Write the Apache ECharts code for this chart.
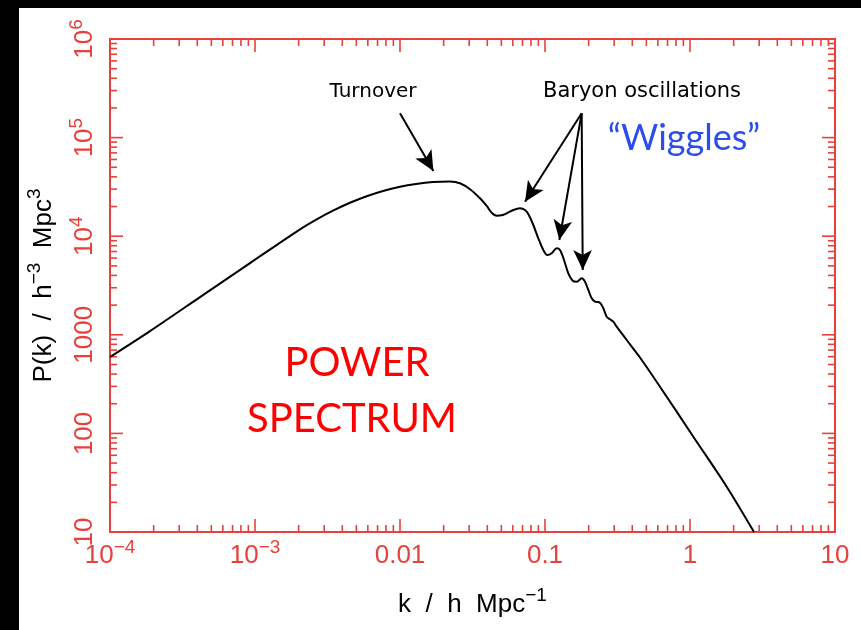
<!DOCTYPE html>
<html><head><meta charset="utf-8">
<script src="https://cdn.jsdelivr.net/npm/echarts@6/dist/echarts.min.js"></script>
<style>html,body{margin:0;padding:0;background:#fff;}#c{width:861px;height:630px;}</style>
</head><body><div id="c"></div>
<script>
// ---- data ----
const kValues = [1e-4, 1.888e-4, 4.175e-4, 9.237e-4, 2.043e-3, 2.664e-3, 3.451e-3, 4.520e-3, 5.893e-3, 7.632e-3, 0.0100, 0.01289, 0.01689, 0.02213, 0.02593, 0.03040, 0.03561, 0.03963, 0.04289, 0.04645, 0.05029, 0.05444, 0.06045, 0.06725, 0.07278, 0.07670, 0.08306, 0.08989, 0.09734, 0.1037, 0.1112, 0.1204, 0.1269, 0.1352, 0.1448, 0.1552, 0.1654, 0.1791, 0.1888, 0.1989, 0.2099, 0.2213, 0.2394, 0.2524, 0.2664, 0.2807, 0.2958, 0.3122, 0.3380, 0.3660, 0.4518, 0.6209, 1.054, 1.791, 2.763];
const pValues = [595, 1090, 2412, 5337, 11750, 14840, 18180, 21840, 25420, 28730, 31700, 33830, 35380, 35880, 34400, 29910, 24230, 20250, 17310, 16140, 16290, 17070, 18440, 19190, 18440, 16800, 12990, 9522, 7244, 6447, 6709, 7540, 7244, 5736, 4205, 3537, 3455, 3741, 3455, 2848, 2345, 2167, 2117, 1857, 1526, 1437, 1358, 1208, 1036, 886, 588.6, 297.6, 92.6, 28.8, 10];

const X_MIN = 1e-4, X_MAX = 10, Y_MIN = 10, Y_MAX = 1e6;
const xTickLabels = [['10','−4'],['10','−3'],['0.01',''],['0.1',''],['1',''],['10','']];
const yTickLabels = [['10',''],['100',''],['1000',''],['10','4'],['10','5'],['10','6']];
const minorMultipliers = [2,3,4,5,6,7,8,9];

const arrowStart = [[0.01,176300],[0.179,176300],[0.179,176300],[0.179,176300]];
const arrowEnd   = [[0.017,45830],[0.0728,22390],[0.1256,9150],[0.182,4540]];

// ---- styling ----
const RED = '#e8403a';
const LABEL_FONT = 'Liberation Sans';

function richLabel(pair){ return pair[1] ? '{b|'+pair[0]+'}{s|'+pair[1]+'}' : '{b|'+pair[0]+'}'; }
const tickRich = {
  b:{fontSize:26, lineHeight:36, color:RED, fontFamily:LABEL_FONT},
  s:{fontSize:19, lineHeight:20, verticalAlign:'top', color:RED, fontFamily:LABEL_FONT}
};
const nameRich = {
  n:{fontSize:26, lineHeight:38, color:'#000', fontFamily:LABEL_FONT},
  s:{fontSize:19, lineHeight:20, verticalAlign:'top', color:'#000', fontFamily:LABEL_FONT}
};

const xTickData = [], yTickData = [];
for (let d = -4; d <= 0; d++) {
  xTickData.push([Math.pow(10,d), Y_MIN, 1]);
  minorMultipliers.forEach(m => xTickData.push([m*Math.pow(10,d), Y_MIN, 0]));
}
xTickData.push([X_MAX, Y_MIN, 1]);
for (let d = 1; d <= 5; d++) {
  yTickData.push([X_MIN, Math.pow(10,d), 1]);
  minorMultipliers.forEach(m => yTickData.push([X_MIN, m*Math.pow(10,d), 0]));
}
yTickData.push([X_MIN, Y_MAX, 1]);

function tickLine(x1,y1,x2,y2){ return {type:'line', shape:{x1,y1,x2,y2}, style:{stroke:RED, lineWidth:1.6}}; }

const chart = echarts.init(document.getElementById('c'), null, {renderer:'canvas'});
chart.setOption({
  animation:false,
  backgroundColor:'#fff',
  grid:{left:110, top:39, right:26, bottom:98, show:true, borderColor:RED, borderWidth:2, backgroundColor:'transparent'},
  xAxis:{
    type:'log', logBase:10, min:X_MIN, max:X_MAX, splitNumber:5,
    axisLine:{show:false}, axisTick:{show:false}, splitLine:{show:false},
    axisLabel:{margin:6, fontSize:26, fontFamily:LABEL_FONT, color:RED, showMinLabel:true, showMaxLabel:true, rich:tickRich,
      formatter:v=>richLabel(xTickLabels[Math.round(Math.log10(v))+4])},
    name:'{n|k  /  h  Mpc}{s|−1}', nameLocation:'middle', nameGap:54,
    nameTextStyle:{fontSize:26, fontFamily:LABEL_FONT, rich:nameRich}
  },
  yAxis:{
    type:'log', logBase:10, min:Y_MIN, max:Y_MAX, splitNumber:5,
    axisLine:{show:false}, axisTick:{show:false}, splitLine:{show:false},
    axisLabel:{margin:7, rotate:90, fontSize:26, fontFamily:LABEL_FONT, color:RED, showMinLabel:true, showMaxLabel:true, rich:tickRich,
      formatter:v=>richLabel(yTickLabels[Math.round(Math.log10(v))-1])},
    name:'{n|P(k)  /  h}{s|−3}{n|  Mpc}{s|3}', nameLocation:'middle', nameGap:47,
    nameTextStyle:{fontSize:26, fontFamily:LABEL_FONT, rich:nameRich}
  },
  graphic:[
    {type:'rect', left:0, top:0, shape:{width:861, height:8}, style:{fill:'#000'}},
    {type:'rect', left:0, top:0, shape:{width:19, height:630}, style:{fill:'#000'}},
    {type:'text', x:373, y:92, style:{text:'Turnover', fontSize:20, fontFamily:'DejaVu Sans', fill:'#000', align:'center', verticalAlign:'middle'}},
    {type:'text', x:642, y:92, style:{text:'Baryon oscillations', fontSize:21, fontFamily:'DejaVu Sans', fill:'#000', align:'center', verticalAlign:'middle'}},
    {type:'text', x:684, y:138, style:{text:'“Wiggles”', fontSize:36, fontFamily:'Lato', fill:'#2b4eea', align:'center', verticalAlign:'middle'}},
    {type:'text', x:357, y:363, style:{text:'POWER', fontSize:40, fontFamily:'Lato', fill:'#ff0000', align:'center', verticalAlign:'middle'}},
    {type:'text', x:352, y:419, style:{text:'SPECTRUM', fontSize:40, fontFamily:'Lato', fill:'#ff0000', align:'center', verticalAlign:'middle'}}
  ],
  series:[
    {type:'custom', coordinateSystem:'cartesian2d', data:xTickData, clip:false, silent:true, z:3,
      renderItem:(params, api)=>{
        const v = api.value(0), len = api.value(2) ? 13 : 7;
        const b = api.coord([v, Y_MIN]), t = api.coord([v, Y_MAX]);
        return {type:'group', children:[tickLine(b[0],b[1],b[0],b[1]-len), tickLine(t[0],t[1],t[0],t[1]+len)]};
      }},
    {type:'custom', coordinateSystem:'cartesian2d', data:yTickData, clip:false, silent:true, z:3,
      renderItem:(params, api)=>{
        const v = api.value(1), len = api.value(2) ? 13 : 7;
        const l = api.coord([X_MIN, v]), r = api.coord([X_MAX, v]);
        return {type:'group', children:[tickLine(l[0],l[1],l[0]+len,l[1]), tickLine(r[0],r[1],r[0]-len,r[1])]};
      }},
    {type:'line', data:kValues.map((k,i)=>[k,pValues[i]]), showSymbol:false, symbol:'none', smooth:0.3, clip:true, z:5,
      lineStyle:{color:'#000', width:2},
      markLine:{silent:true, symbol:['none','arrow'], symbolSize:[14,20], animation:false,
        lineStyle:{color:'#000', width:2, type:'solid'}, label:{show:false},
        data:arrowStart.map((s,i)=>[{coord:s},{coord:arrowEnd[i]}])}
    }
  ]
});
</script></body></html>
